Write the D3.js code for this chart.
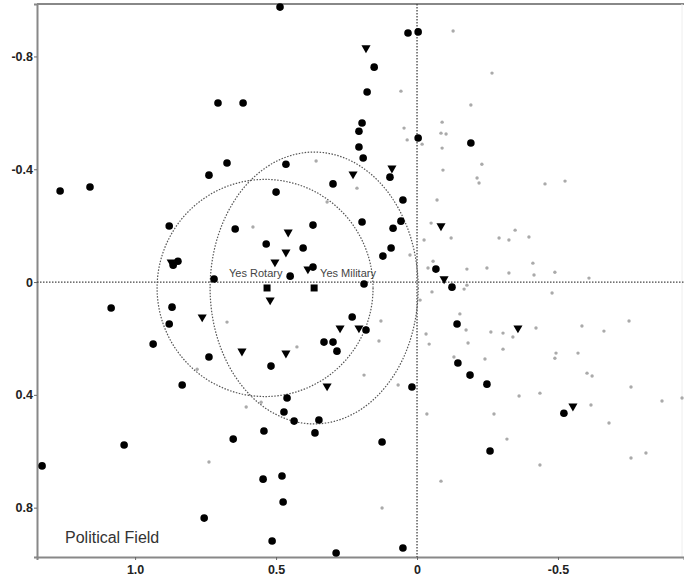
<!DOCTYPE html>
<html>
<head>
<meta charset="utf-8">
<script src="https://cdn.jsdelivr.net/npm/d3@7"></script>
<style>
  body { margin: 0; background: #fff; }
  #chart { width: 684px; height: 580px; }
  text { font-family: "Liberation Sans", Arial, sans-serif; }
</style>
</head>
<body>
<div id="chart"></div>
<script>
// black circles (individuals, dimension 1 x dimension 2)
const circlePts = [
  [1.266,-0.323],[1.160,-0.337],[0.706,-0.635],[0.617,-0.635],[0.738,-0.379],[0.674,-0.422],
  [0.486,-0.975],[0.032,-0.883],[-0.004,-0.887],[0.152,-0.762],[0.177,-0.674],[0.195,-0.564],
  [0.206,-0.535],[0.206,-0.479],[0.191,-0.440],[-0.004,-0.511],[0.465,-0.418],[0.298,-0.348],
  [0.500,-0.319],[0.096,-0.372],[0.050,-0.291],[-0.191,-0.493],[0.879,-0.199],[0.645,-0.188],
  [0.535,-0.135],[0.848,-0.074],[0.865,-0.060],[0.720,-0.011],[1.085,0.092],[0.869,0.089],
  [0.879,0.149],[0.936,0.220],[0.738,0.266],[0.833,0.365],[0.369,-0.202],[0.195,-0.213],
  [0.057,-0.216],[0.085,-0.191],[0.404,-0.121],[0.092,-0.121],[0.121,-0.092],[0.369,-0.053],
  [0.450,-0.021],[0.188,0.007],[-0.067,-0.046],[0.230,0.124],[0.181,0.170],[0.330,0.213],
  [0.298,0.213],[0.284,0.245],[0.518,0.298],[0.018,0.372],[-0.124,0.018],[-0.142,0.149],
  [-0.145,0.287],[-0.188,0.330],[-0.248,0.362],[1.039,0.578],[1.330,0.652],[0.755,0.837],
  [0.461,0.411],[0.472,0.461],[0.436,0.493],[0.348,0.489],[0.543,0.528],[0.652,0.557],
  [0.362,0.535],[0.124,0.567],[0.546,0.699],[0.479,0.688],[0.475,0.780],[0.514,0.918],
  [0.287,0.961],[0.050,0.943],[-0.521,0.465],[-0.259,0.599]
];

// black triangles
const trianglePts = [
  [0.181,-0.830],[0.227,-0.383],[0.089,-0.404],[0.457,-0.177],[0.465,-0.106],[0.504,-0.071],
  [0.387,-0.046],[0.521,0.064],[0.273,0.163],[0.206,0.163],[0.621,0.245],[0.465,0.252],
  [0.319,0.369],[-0.085,-0.199],[-0.096,-0.011],[0.872,-0.071],[0.762,0.124],[-0.358,0.163],
  [-0.553,0.440]
];

// supplementary category points (squares) and their labels
const squarePts = [[0.532,0.021],[0.365,0.021]];
const squareLabels = ["Yes Rotary", "Yes Military"];

// small grey points
const greyPts = [
  [0.057,-0.677],[0.046,-0.546],[0.035,-0.504],[-0.018,-0.489],[-0.089,-0.567],[-0.085,-0.528],
  [-0.103,-0.525],[-0.089,-0.475],[-0.092,-0.397],[0.358,-0.429],[0.213,-0.333],[-0.128,-0.890],
  [-0.266,-0.741],[-0.191,-0.628],[-0.230,-0.418],[-0.213,-0.369],[-0.220,-0.351],[-0.454,-0.348],
  [-0.525,-0.358],[0.582,-0.195],[0.319,-0.284],[0.674,0.142],[0.426,0.230],[0.128,0.138],
  [0.135,0.209],[0.188,0.330],[0.067,0.365],[-0.032,0.184],[-0.043,0.220],[0.025,-0.096],
  [-0.050,-0.209],[-0.057,-0.074],[-0.121,-0.156],[-0.291,-0.156],[-0.326,-0.149],[-0.348,-0.184],
  [-0.397,-0.160],[-0.411,-0.067],[-0.177,-0.046],[-0.248,-0.050],[-0.326,-0.032],[-0.415,-0.025],
  [-0.489,-0.035],[-0.610,-0.014],[-0.167,0.025],[-0.177,0.011],[-0.479,0.039],[-0.152,0.113],
  [-0.174,0.170],[-0.262,0.177],[-0.305,0.181],[-0.340,0.195],[-0.422,0.163],[-0.585,0.156],
  [-0.663,0.174],[-0.752,0.138],[-0.181,0.216],[-0.305,0.238],[-0.241,0.273],[-0.131,0.266],
  [-0.493,0.252],[-0.571,0.252],[-0.489,0.270],[-0.603,0.323],[-0.621,0.333],[-0.759,0.372],
  [0.738,0.638],[0.553,0.426],[0.606,0.443],[-0.035,0.468],[-0.085,0.706],[0.124,0.801],
  [-0.362,0.404],[-0.436,0.394],[-0.273,0.468],[-0.617,0.436],[-0.681,0.500],[-0.869,0.422],
  [-0.940,0.411],[-0.319,0.557],[-0.436,0.649],[-0.759,0.624],[-0.812,0.606],[0.780,0.309],
  [-0.025,-0.149],[-0.039,-0.050],[-0.053,0.035],[-0.011,0.064],[-0.071,-0.291]
];

// confidence ellipses: centre x, centre y, radius x, radius y
const ellipses = [
  [0.539, 0.021, 0.383, 0.385],
  [0.365, 0.021, 0.369, 0.482]
];

const xTicks = [1.0, 0.5, 0, -0.5];
const yTicks = [-0.8, -0.4, 0, 0.4, 0.8];
const fieldTitle = "Political Field";

const margin = {top: 4, right: 0, bottom: 23, left: 37};
const width = 684 - margin.left - margin.right;
const height = 580 - margin.top - margin.bottom;

const svg = d3.select("#chart").append("svg")
    .attr("width", 684)
    .attr("height", 580)
    .append("g")
    .attr("transform", `translate(${margin.left},${margin.top})`);

// reversed axes (as in the original)
const x = d3.scaleLinear().domain([1.348, -0.947]).range([0, width]);
const y = d3.scaleLinear().domain([-0.986, 0.975]).range([0, height]);

// plain hyphen for negatives, like the original
const fmt = d => d === 0 ? "0" : d.toFixed(1);

// frame
svg.append("line").attr("x1", 0).attr("x2", width).attr("y1", 0).attr("y2", 0)
    .attr("stroke", "#888").attr("stroke-width", 2);
svg.append("line").attr("x1", width - 2).attr("x2", width - 2).attr("y1", 0).attr("y2", height)
    .attr("stroke", "#eee").attr("stroke-width", 1);

const xAxis = svg.append("g")
    .attr("transform", `translate(0,${height})`)
    .call(d3.axisBottom(x).tickValues(xTicks).tickFormat(fmt).tickSizeOuter(0).tickSize(3));
const yAxis = svg.append("g")
    .call(d3.axisLeft(y).tickValues(yTicks).tickFormat(fmt).tickSizeOuter(0).tickSize(3));

[xAxis, yAxis].forEach(a => {
    a.select(".domain").attr("stroke", "#888").attr("stroke-width", 2);
    a.selectAll(".tick line").attr("stroke", "#666");
    a.selectAll(".tick text")
        .attr("fill", "#222")
        .style("font-size", "12.5px")
        .style("font-weight", "bold")
        .style("font-family", "'Liberation Sans', Arial, sans-serif");
});
xAxis.selectAll(".tick text").attr("dy", "0.9em");
yAxis.selectAll(".tick text").attr("x", -4);

// dotted reference lines
svg.append("line")
    .attr("x1", x(0)).attr("x2", x(0)).attr("y1", 0).attr("y2", height)
    .attr("stroke", "#444").attr("stroke-width", 1.3).attr("stroke-dasharray", "1.5,1.5");
svg.append("line")
    .attr("x1", 0).attr("x2", width).attr("y1", y(0)).attr("y2", y(0))
    .attr("stroke", "#444").attr("stroke-width", 1.3).attr("stroke-dasharray", "1.5,1.5");

// ellipses
svg.selectAll(".ell")
    .data(ellipses)
    .enter()
    .append("ellipse")
    .attr("class", "ell")
    .attr("cx", d => x(d[0]))
    .attr("cy", d => y(d[1]))
    .attr("rx", d => Math.abs(x(d[2]) - x(0)))
    .attr("ry", d => Math.abs(y(d[3]) - y(0)))
    .attr("fill", "none")
    .attr("stroke", "#555")
    .attr("stroke-width", 1.2)
    .attr("stroke-dasharray", "1.5,1.5");

// grey points
svg.selectAll(".grey")
    .data(greyPts)
    .enter()
    .append("circle")
    .attr("class", "grey")
    .attr("cx", d => x(d[0]))
    .attr("cy", d => y(d[1]))
    .attr("r", 1.7)
    .attr("fill", "#aaa");

// black circles
svg.selectAll(".dot")
    .data(circlePts)
    .enter()
    .append("circle")
    .attr("class", "dot")
    .attr("cx", d => x(d[0]))
    .attr("cy", d => y(d[1]))
    .attr("r", 3.8)
    .attr("fill", "#000");

// triangles
const tri = d3.symbol().type(d3.symbolTriangle).size(36);
svg.selectAll(".tri")
    .data(trianglePts)
    .enter()
    .append("path")
    .attr("class", "tri")
    .attr("d", tri)
    .attr("transform", d => `translate(${x(d[0])},${y(d[1])}) rotate(180)`)
    .attr("fill", "#000");

// squares
svg.selectAll(".sq")
    .data(squarePts)
    .enter()
    .append("rect")
    .attr("class", "sq")
    .attr("x", d => x(d[0]) - 3.5)
    .attr("y", d => y(d[1]) - 3.5)
    .attr("width", 7)
    .attr("height", 7)
    .attr("fill", "#000");

// label offsets from their square (px)
const labelDx = [-38, 6];
svg.selectAll(".sqlab")
    .data(squarePts)
    .enter()
    .append("text")
    .attr("class", "sqlab")
    .attr("x", (d, i) => x(d[0]) + labelDx[i])
    .attr("y", d => y(d[1]) - 11)
    .text((d, i) => squareLabels[i])
    .attr("fill", "#444")
    .style("font-size", "11px");

svg.append("text")
    .attr("x", 28)
    .attr("y", height - 14)
    .text(fieldTitle)
    .attr("fill", "#333")
    .style("font-size", "16px");
</script>
</body>
</html>
